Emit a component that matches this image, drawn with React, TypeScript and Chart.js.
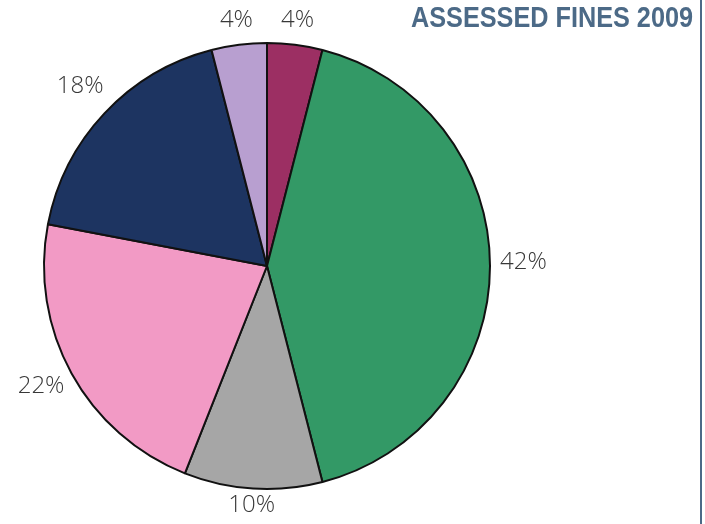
import React, { useEffect, useRef } from "react";
import { Chart, registerables } from "chart.js";

Chart.register(...registerables);

// Share of assessed fines by category, clockwise from 12 o'clock
const categories = ["A", "B", "C", "D", "E", "F"];
const shares = [4, 42, 10, 22, 18, 4];
const sliceColors = ["#9c2f63", "#339966", "#a6a6a6", "#f29ac5", "#1d3461", "#b89fd0"];
const chartTitle = "ASSESSED FINES 2009";

const TITLE_COLOR = "#4c6a87";
const LABEL_FONT = "300 24px 'Open Sans', 'Noto Sans', sans-serif";

// Percentage labels placed just outside each slice
const outsideLabels = {
  id: "outsideLabels",
  afterDatasetsDraw(chart: any) {
    const ctx = chart.ctx;
    const meta = chart.getDatasetMeta(0);
    const values = chart.data.datasets[0].data as number[];
    ctx.save();
    ctx.font = LABEL_FONT;
    ctx.fillStyle = "#383838";
    ctx.textAlign = "center";
    ctx.textBaseline = "middle";
    const gap = 10;
    meta.data.forEach((arc: any, i: number) => {
      const { x, y, startAngle, endAngle, outerRadius } = arc.getProps(
        ["x", "y", "startAngle", "endAngle", "outerRadius"],
        true
      );
      const mid = (startAngle + endAngle) / 2;
      const dx = Math.cos(mid);
      const dy = Math.sin(mid);
      const text = values[i] + "%";
      const halfW = ctx.measureText(text).width / 2;
      const halfH = 9;
      const extent = Math.abs(dx) * halfW + Math.abs(dy) * halfH;
      const r = outerRadius + gap + extent;
      ctx.fillText(text, x + dx * r, y + dy * r - 4);
    });
    ctx.restore();
  },
};

// Corner title (condensed bold) and the vertical rule along the right edge
const frame = {
  id: "frame",
  afterDraw(chart: any) {
    const ctx = chart.ctx;
    ctx.save();
    ctx.fillStyle = TITLE_COLOR;
    ctx.font = "bold 30px 'Liberation Sans', Arial, sans-serif";
    ctx.textAlign = "right";
    ctx.textBaseline = "alphabetic";
    ctx.fillText(chartTitle, 693, 27, 282);
    ctx.fillRect(700, 0, 2, chart.height);
    ctx.restore();
  },
};

export default function App() {
  const canvasRef = useRef<HTMLCanvasElement | null>(null);

  useEffect(() => {
    if (!canvasRef.current) return;
    const chart = new Chart(canvasRef.current, {
      type: "pie",
      data: {
        labels: categories,
        datasets: [
          {
            data: shares,
            backgroundColor: sliceColors,
            borderColor: "#111111",
            borderWidth: 2,
          },
        ],
      },
      options: {
        responsive: false,
        animation: false,
        layout: { padding: { left: 43, right: 214, top: 42, bottom: 34 } },
        plugins: {
          legend: { display: false },
          tooltip: { enabled: false },
          title: { display: false },
        },
      },
      plugins: [outsideLabels, frame],
    });
    return () => chart.destroy();
  }, []);

  return (
    <div style={{ position: "absolute", left: 0, top: 0, width: 705, height: 524, background: "#ffffff" }}>
      <canvas ref={canvasRef} width={705} height={524} />
    </div>
  );
}
